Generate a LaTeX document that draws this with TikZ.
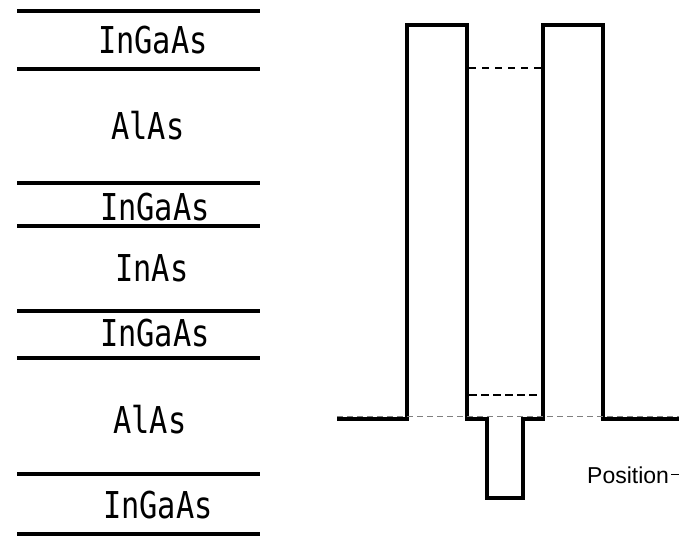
\documentclass[tikz,border=0pt]{standalone}
\usepackage{fontspec}
\setmainfont{Liberation Sans}
\newfontfamily\layerfont{DejaVu Sans Mono}
\begin{document}
\begin{tikzpicture}[x=1pt,y=-1pt,
    layerline/.style={line width=3.4pt},
    layerlabel/.style={font=\layerfont\fontsize{37}{40}\selectfont, xscale=0.82, transform shape, inner sep=0pt},
    band/.style={line width=3.6pt, line join=miter},
    levelA/.style={line width=2pt, dash pattern=on 7pt off 6pt},
    levelB/.style={line width=2.8pt, dash pattern=on 8pt off 4pt},
    fermi/.style={line width=1pt, gray, dash pattern=on 6pt off 4pt},
    axislabel/.style={font=\fontsize{23}{25}\selectfont, inner sep=0pt, anchor=base west}]
  \useasboundingbox (0,0) rectangle (679,536);

  % layer stack: interfaces
  \foreach \yy in {11,69,183,226,311,358,474,534}
    \draw[layerline] (17,\yy) -- (260,\yy);

  % layer names
  \node[layerlabel] (l1) at (153,40)  {InGaAs};
  \node[layerlabel] (l2) at (148,126) {AlAs};
  \node[layerlabel] (l3) at (155,207) {InGaAs};
  \node[layerlabel] (l4) at (152,268) {InAs};
  \node[layerlabel] (l5) at (155,333) {InGaAs};
  \node[layerlabel] (l6) at (150,420) {AlAs};
  \node[layerlabel] (l7) at (158,505) {InGaAs};

  % conduction band profile
  \coordinate (bl) at (337,419);
  \coordinate (br) at (679,419);
  \draw[band] (bl) -- (407,419) -- (407,25) -- (467,25) -- (467,419)
    -- (487,419) -- (487,498) -- (523,498) -- (523,419)
    -- (543,419) -- (543,25) -- (603,25) -- (603,419) -- (br);

  % quantised levels in the well
  \coordinate (ua) at (469,68);  \coordinate (ub) at (541,68);
  \draw[levelA] (ua) -- (ub);
  \coordinate (la) at (469,395); \coordinate (lb) at (541,395);
  \draw[levelB] (la) -- (lb);

  % Fermi level
  \coordinate (fa) at (337,416); \coordinate (fb) at (679,416);
  \draw[fermi] (fa) -- (fb);

  % axis label
  \node[axislabel] (pos) at (587,483) {Position};
  \coordinate (axend) at (679,474);
  \draw[line width=0.8pt] (671,474) -- (axend);
\end{tikzpicture}
\end{document}
